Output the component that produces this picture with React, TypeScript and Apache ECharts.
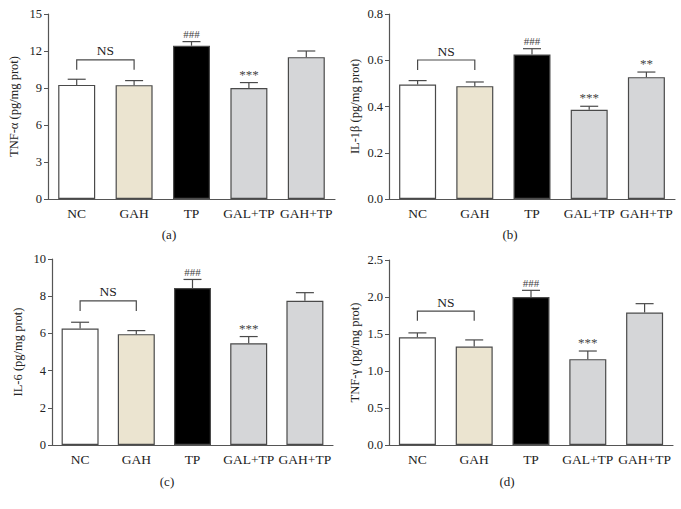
import React, { useEffect, useRef } from "react";
import * as echarts from "echarts";

const categories = ["NC", "GAH", "TP", "GAL+TP", "GAH+TP"];
const barColors = ["#ffffff", "#ebe4d0", "#000000", "#d5d6d8", "#d5d6d8"];

const tnfA = [9.25, 9.23, 12.43, 8.99, 11.5];
const tnfAErr = [0.46, 0.37, 0.33, 0.45, 0.5];
const tnfAMarks = ["", "", "###", "***", ""];

const il1b = [0.495, 0.488, 0.625, 0.386, 0.527];
const il1bErr = [0.017, 0.018, 0.025, 0.015, 0.022];
const il1bMarks = ["", "", "###", "***", "**"];

const il6 = [6.26, 5.96, 8.44, 5.47, 7.75];
const il6Err = [0.34, 0.19, 0.46, 0.36, 0.44];
const il6Marks = ["", "", "###", "***", ""];

const tnfG = [1.455, 1.33, 2.0, 1.16, 1.79];
const tnfGErr = [0.06, 0.09, 0.09, 0.11, 0.12];
const tnfGMarks = ["", "", "###", "***", ""];

// bracket: [fromIndex, toIndex, topValue, legValue]
const bracketA = [0, 1, 11.28, 10.47];
const bracketB = [0, 1, 0.601, 0.558];
const bracketC = [0, 1, 7.75, 7.2];
const bracketD = [0, 1, 1.81, 1.68];
const bracketText = "NS";

const yNames = ["TNF-α (pg/mg prot)", "IL-1β (pg/mg prot)", "IL-6 (pg/mg prot)", "TNF-γ (pg/mg prot)"];
const yMaxes = [15, 0.8, 10, 2.5];
const yIntervals = [3, 0.2, 2, 0.5];
const yDecimals = [0, 1, 0, 1];
const captions = ["(a)", "(b)", "(c)", "(d)"];

const FONT = "Liberation Serif";
const AXIS = "#555555";
const TXT = "#222222";

export default function App() {
  const ref = useRef<HTMLDivElement>(null);
  useEffect(() => {
    if (!ref.current) return;
    document.body.style.margin = "0";
    const chart = echarts.init(ref.current, undefined, { renderer: "svg" });

    const panels = [
      { vals: tnfA, err: tnfAErr, marks: tnfAMarks, br: bracketA, grid: { left: 48, top: 14, width: 287, height: 185 }, cap: [169, 234] },
      { vals: il1b, err: il1bErr, marks: il1bMarks, br: bracketB, grid: { left: 389, top: 14, width: 286, height: 185 }, cap: [510, 234] },
      { vals: il6, err: il6Err, marks: il6Marks, br: bracketC, grid: { left: 52, top: 259, width: 281, height: 186 }, cap: [167, 481] },
      { vals: tnfG, err: tnfGErr, marks: tnfGMarks, br: bracketD, grid: { left: 389, top: 260, width: 284, height: 185 }, cap: [507, 481] },
    ];

    const grids: any[] = [];
    const xAxes: any[] = [];
    const yAxes: any[] = [];
    const series: any[] = [];
    const graphics: any[] = [];

    panels.forEach((p, i) => {
      grids.push({ ...p.grid, containLabel: false });
      xAxes.push({
        type: "category",
        gridIndex: i,
        data: categories,
        axisLine: { lineStyle: { color: AXIS, width: 1.2 } },
        axisTick: { alignWithLabel: true, length: 4, lineStyle: { color: AXIS } },
        axisLabel: { color: TXT, fontFamily: FONT, fontSize: 13.5, margin: 7, interval: 0 },
      });
      yAxes.push({
        type: "value",
        gridIndex: i,
        min: 0,
        max: yMaxes[i],
        interval: yIntervals[i],
        name: yNames[i],
        nameLocation: "middle",
        nameGap: 28,
        nameTextStyle: { color: TXT, fontFamily: FONT, fontSize: 12.5 },
        axisLine: { show: true, lineStyle: { color: AXIS, width: 1.2 } },
        axisTick: { show: true, length: 4, lineStyle: { color: AXIS } },
        splitLine: { show: false },
        axisLabel: {
          color: TXT,
          fontFamily: FONT,
          fontSize: 12.5,
          margin: 6,
          formatter: (v: number) => v.toFixed(yDecimals[i]),
        },
      });
      series.push({
        type: "bar",
        xAxisIndex: i,
        yAxisIndex: i,
        barWidth: 37,
        data: p.vals.map((v, k) => ({ value: v, itemStyle: { color: barColors[k] } })),
        itemStyle: { borderColor: "#4a4a4a", borderWidth: 1.2 },
        z: 2,
      });
      series.push({
        type: "custom",
        xAxisIndex: i,
        yAxisIndex: i,
        z: 3,
        data: p.vals.map((v, k) => [k, v + p.err[k], v]),
        renderItem: (params: any, api: any) => {
          const idx = api.value(0);
          const top = api.coord([idx, api.value(1)]);
          const base = api.coord([idx, api.value(2)]);
          const mark = p.marks[idx];
          const children: any[] = [
            { type: "line", shape: { x1: top[0], y1: base[1], x2: top[0], y2: top[1] }, style: { stroke: "#4a4a4a", lineWidth: 1.2 } },
            { type: "line", shape: { x1: top[0] - 9, y1: top[1], x2: top[0] + 9, y2: top[1] }, style: { stroke: "#4a4a4a", lineWidth: 1.2 } },
          ];
          if (mark) {
            children.push({
              type: "text",
              x: top[0],
              y: top[1] - 2,
              style: {
                text: mark,
                align: "center",
                verticalAlign: "bottom",
                fill: "#444444",
                fontFamily: FONT,
                fontSize: mark[0] === "#" ? 11 : 13,
              },
            });
          }
          return { type: "group", children };
        },
      });
      series.push({
        type: "custom",
        xAxisIndex: i,
        yAxisIndex: i,
        z: 3,
        data: [p.br],
        renderItem: (params: any, api: any) => {
          const a = api.coord([api.value(0), api.value(2)]);
          const b = api.coord([api.value(1), api.value(2)]);
          const legA = api.coord([api.value(0), api.value(3)]);
          return {
            type: "group",
            children: [
              {
                type: "polyline",
                shape: { points: [[a[0], legA[1]], [a[0], a[1]], [b[0], b[1]], [b[0], legA[1]]] },
                style: { stroke: "#4a4a4a", lineWidth: 1.2, fill: "none" },
              },
              {
                type: "text",
                x: (a[0] + b[0]) / 2,
                y: a[1] - 2,
                style: {
                  text: bracketText,
                  align: "center",
                  verticalAlign: "bottom",
                  fill: TXT,
                  fontFamily: FONT,
                  fontSize: 13.5,
                },
              },
            ],
          };
        },
      });
      graphics.push({
        type: "text",
        x: p.cap[0],
        y: p.cap[1],
        style: {
          text: captions[i],
          align: "center",
          verticalAlign: "middle",
          fill: TXT,
          fontFamily: FONT,
          fontSize: 13,
        },
      });
    });

    chart.setOption({
      animation: false,
      backgroundColor: "#ffffff",
      grid: grids,
      xAxis: xAxes,
      yAxis: yAxes,
      series,
      graphic: graphics,
    });
    return () => chart.dispose();
  }, []);
  return <div ref={ref} style={{ position: "fixed", left: 0, top: 0, width: 681, height: 509 }} />;
}
